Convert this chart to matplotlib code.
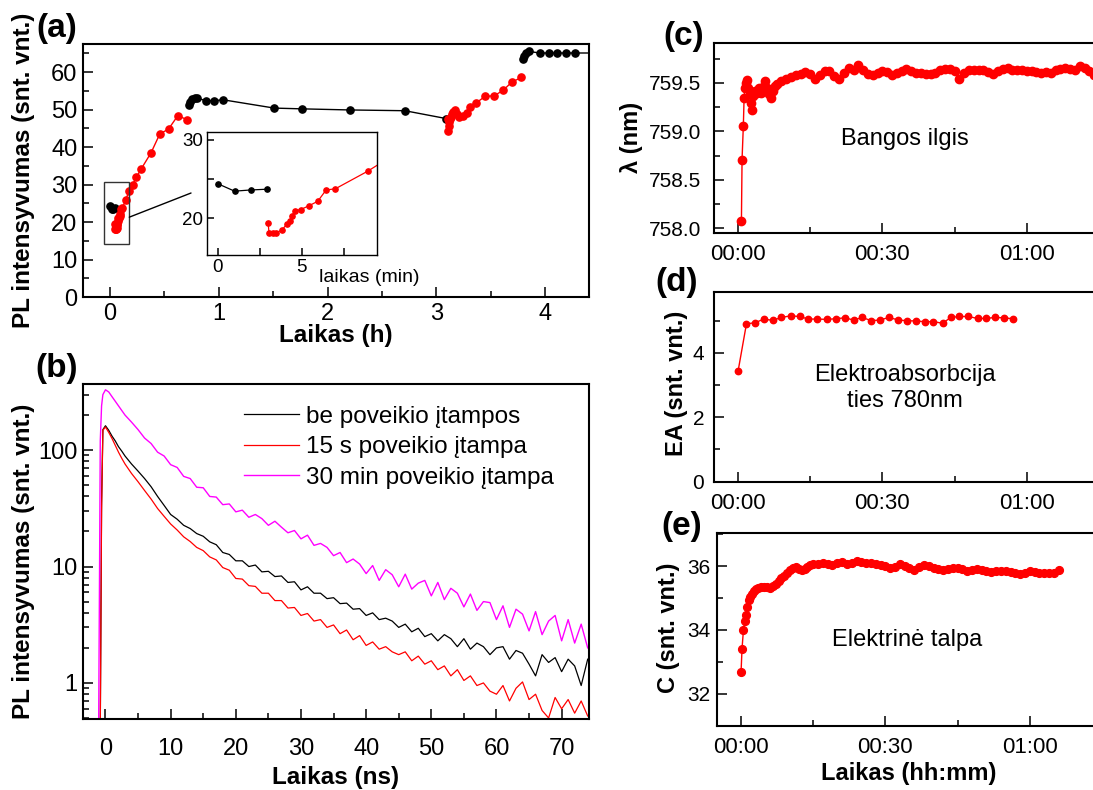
import matplotlib
matplotlib.use('Agg')
import matplotlib.pyplot as plt
from matplotlib.ticker import MultipleLocator, FixedLocator, FixedFormatter, LogLocator, NullFormatter, FuncFormatter
from matplotlib.patches import Rectangle, ConnectionPatch

plt.rcParams['font.family'] = ['Liberation Sans', 'DejaVu Sans']

# ---------------- data ----------------
# (a) PL intensity vs time
a_black1_min = [0, 1.0, 1.95, 2.95]
a_black1_val = [24.4, 23.45, 23.6, 23.7]
a_red1_min = [3.0, 3.05, 3.27, 3.47, 3.8, 4.1, 4.3, 4.44, 4.6, 4.94, 5.44, 5.95, 6.45, 7.0, 8.93]
a_red1_val = [19.4, 18.15, 18.15, 18.15, 18.45, 19.2, 19.6, 20.3, 20.95, 21.1, 21.6, 22.15, 23.6, 23.75, 26.0]
a_red1b_h = [0.176, 0.21, 0.246, 0.29, 0.38, 0.46, 0.54, 0.626, 0.71]
a_red1b_val = [28.2, 29.9, 32.0, 34.2, 38.5, 43.5, 44.8, 48.4, 47.3]
a_black2_h = [0.724, 0.738, 0.76, 0.784, 0.80, 0.88, 0.96, 1.044, 1.511, 1.761, 2.21, 2.71, 3.09]
a_black2_val = [51.2, 52.0, 52.7, 53.0, 53.1, 52.4, 52.4, 52.6, 50.4, 50.2, 49.9, 49.7, 47.6]
a_red2_h = [3.105, 3.11, 3.112, 3.115, 3.12, 3.13, 3.14, 3.155, 3.17, 3.19, 3.21, 3.24, 3.28,
            3.31, 3.36, 3.445, 3.53, 3.61, 3.69, 3.78]
a_red2_val = [47.6, 44.4, 45.5, 46.6, 47.5, 48.1, 48.7, 49.3, 50.0, 48.8, 48.0, 48.4, 49.0,
              50.6, 51.7, 53.5, 53.7, 55.1, 57.3, 58.6]
a_black3_h = [3.79, 3.80, 3.82, 3.85, 3.95, 4.03, 4.11, 4.19, 4.27, 4.45]
a_black3_val = [63.5, 64.4, 65.0, 65.5, 65.1, 65.1, 65.1, 65.1, 65.1, 65.1]

# (b) PL decay
b_time = [-1.6, -1.05, -0.8, -0.6, -0.4, 0, 0.5, 1, 1.5, 2, 2.5] + list(range(3, 75))
b_black = [0.2, 0.3, 0.4, 35, 150, 162, 148, 132, 120, 107, 98,
           89, 76, 66, 57, 48.5, 40, 33.5, 28, 25.5, 22.6, 21.2, 19.2, 18.2, 16.3, 15.4, 13.2, 12.7, 11.2,
           11.2, 10.0, 10.3, 9.0, 9.1, 8.2, 8.3, 7.3, 7.4, 6.3, 6.7, 5.9, 5.9, 5.3, 5.4, 4.8, 4.85, 4.3, 4.35, 3.8,
           4.0, 3.5, 3.6, 3.4, 3.0, 3.2, 2.75, 2.95, 2.5, 2.65, 2.3, 2.6, 2.4, 2.05, 2.4, 1.95, 2.2, 2.05, 1.75, 2.0,
           2.05, 1.6, 1.9, 1.8, 1.45, 1.15, 1.75, 1.5, 1.65, 1.25, 1.6, 1.4, 0.95, 1.6]
b_red = [0.2, 0.3, 0.4, 30, 148, 158, 142, 126, 110, 96, 85,
         76, 63, 53.5, 45, 38, 31.5, 27, 23.2, 20.6, 18.0, 16.4, 14.6, 13.7, 12.1, 11.4, 9.8, 9.3, 7.9,
         7.8, 6.85, 6.75, 5.9, 5.9, 5.1, 5.1, 4.4, 4.45, 3.8, 3.95, 3.4, 3.5, 3.0, 3.15, 2.65, 2.85, 2.35, 2.55, 2.1,
         2.25, 1.95, 2.05, 1.85, 1.75, 1.85, 1.55, 1.7, 1.45, 1.55, 1.3, 1.4, 1.15, 1.3, 1.05, 1.15, 0.95, 1.0, 0.85, 0.8,
         0.95, 0.7, 0.9, 1.02, 0.72, 0.8, 0.58, 0.5, 0.75, 0.6, 0.72, 0.55, 0.7, 0.52]
b_magenta = [0.2, 0.4, 120, 240, 300, 330, 316, 288, 263, 240, 219,
             200, 174, 150, 127, 114, 96, 89, 75, 71, 59.5, 57, 48, 47.5, 40, 39.5, 34, 34.5, 29.5,
             30.5, 26.5, 28, 25.8, 22.6, 24.5, 21.8, 19.5, 20.4, 17.3, 18.6, 15.2, 15.8, 14.6, 12.4, 13.2, 10.8, 11.6, 10.5, 8.7,
             10.2, 7.6, 9.4, 8.5, 6.7, 8.6, 6.4, 7.2, 7.6, 5.6, 7.3, 5.2, 6.5, 5.9, 4.5, 5.8, 4.2, 5.0, 4.9, 3.5,
             4.6, 3.0, 4.3, 3.9, 2.8, 4.1, 2.6, 3.4, 3.8, 2.3, 3.5, 2.2, 3.2, 2.0]
b_labels = ['be poveikio įtampos', '15 s poveikio įtampa', '30 min poveikio įtampa']

# (c) wavelength vs time (minutes)
c_time = [0.7, 0.83, 1.1, 1.25, 1.4, 1.6, 1.8, 2.1, 2.4, 2.7, 2.9, 3.2, 3.6, 4.0, 4.4, 4.8, 5.2, 5.6,
          6.0, 6.4, 6.8, 7.2, 7.6, 8.0, 9, 10, 11, 12, 13, 14, 15, 16, 17, 18, 19, 20, 21, 22, 23, 24,
          25, 26, 27, 28, 29, 30, 31, 32, 33, 34, 35, 36, 37, 38, 39, 40, 41, 42, 43, 44, 45, 46, 47,
          48, 49, 50, 51, 52, 53, 54, 55, 56, 57, 58, 59, 60, 61, 62, 63, 64, 65, 66, 67, 68, 69, 70,
          71, 72, 73, 74]
c_val = [758.08, 758.71, 759.06, 759.34, 759.45, 759.50, 759.53, 759.45, 759.38, 759.29, 759.22,
         759.36, 759.42, 759.40, 759.45, 759.40, 759.46, 759.52, 759.45, 759.38, 759.34, 759.42,
         759.47, 759.49, 759.52, 759.54, 759.56, 759.58, 759.59, 759.61, 759.59, 759.54, 759.58,
         759.62, 759.62, 759.57, 759.54, 759.60, 759.65, 759.63, 759.68, 759.63, 759.59, 759.58,
         759.60, 759.62, 759.61, 759.58, 759.60, 759.62, 759.64, 759.62, 759.60, 759.60, 759.59,
         759.59, 759.60, 759.63, 759.64, 759.64, 759.62, 759.54, 759.60, 759.63, 759.63, 759.63,
         759.63, 759.61, 759.59, 759.62, 759.64, 759.65, 759.63, 759.63, 759.63, 759.62, 759.62,
         759.61, 759.60, 759.61, 759.60, 759.63, 759.64, 759.65, 759.64, 759.63, 759.67, 759.65,
         759.62, 759.58]

# (d) electroabsorption
d_time = [0, 1.74, 3.6, 5.35, 7.2, 9.0, 10.9, 12.8, 14.6, 16.5, 18.4, 20.3, 22.2, 24.0, 25.8, 27.7,
          29.4, 31.4, 33.3, 35.1, 36.9, 38.8, 40.6, 42.5, 44.2, 46.0, 47.8, 49.8, 51.5, 53.4, 55.2, 57.1]
d_val = [3.43, 4.90, 4.94, 5.05, 5.01, 5.10, 5.15, 5.13, 5.05, 5.05, 5.04, 5.06, 5.09, 5.02, 5.10, 5.0,
         5.02, 5.10, 5.02, 5.0, 4.99, 4.97, 4.97, 4.92, 5.10, 5.13, 5.13, 5.07, 5.07, 5.10, 5.09, 5.06]

# (e) capacitance
e_time = [0, 0.2, 0.5, 0.76, 1.04, 1.3, 1.6, 1.87, 2.2, 2.6, 3.1, 3.6, 4.2, 4.8, 5.4, 6.0, 6.6, 7.2,
          7.8, 8.4, 9.0, 9.6, 10.2, 10.8, 11.4, 12.0, 12.6, 13.2, 13.8, 14.4, 15, 16, 17, 18, 19, 20,
          21, 22, 23, 24, 25, 26, 27, 28, 29, 30, 31, 32, 33, 34, 35, 36, 37, 38, 39, 40, 41, 42, 43,
          44, 45, 46, 47, 48, 49, 50, 51, 52, 53, 54, 55, 56, 57, 58, 59, 60, 61, 62, 63, 64, 65, 66]
e_val = [32.68, 33.41, 34.01, 34.28, 34.46, 34.72, 34.93, 35.04, 35.13, 35.22, 35.29, 35.33, 35.35,
         35.35, 35.34, 35.33, 35.37, 35.45, 35.53, 35.62, 35.70, 35.80, 35.88, 35.94, 35.96, 35.92,
         35.87, 35.90, 35.97, 36.03, 36.06, 36.07, 36.09, 36.06, 36.03, 36.10, 36.14, 36.08, 36.10,
         36.16, 36.13, 36.10, 36.09, 36.07, 36.04, 36.00, 35.94, 35.98, 36.07, 36.02, 35.93, 35.89,
         35.98, 36.04, 35.99, 35.93, 35.92, 35.88, 35.90, 35.93, 35.94, 35.90, 35.86, 35.88, 35.90,
         35.88, 35.85, 35.82, 35.84, 35.85, 35.84, 35.82, 35.80, 35.76, 35.80, 35.85, 35.82, 35.79,
         35.80, 35.78, 35.80, 35.87]

hm_ticks = [0, 30, 60]
hm_labels = ['00:00', '00:30', '01:00']

# ---------------- figure ----------------
W, H = 1093, 790
fig = plt.figure(figsize=(W / 100, H / 100), dpi=100)


def box(l, t, r, b):
    return [l / W, 1 - b / H, (r - l) / W, (b - t) / H]


RED = '#ff0000'
MAG = '#ff00ff'
LW_SP = 1.5


def style(ax, fs, pad_x=4, pad_y=4, sw=LW_SP):
    for s in ax.spines.values():
        s.set_linewidth(sw)
    ax.tick_params(which='both', direction='in', top=False, right=False, width=1.1, labelsize=fs)
    ax.tick_params(which='major', length=7)
    ax.tick_params(which='minor', length=4)
    ax.tick_params(axis='x', which='both', pad=pad_x)
    ax.tick_params(axis='y', which='both', pad=pad_y)


# ---- (a)
axa = fig.add_axes(box(83, 44, 589, 297))
style(axa, 17, pad_x=4, pad_y=4)
ms_a = 5.2
axa.plot([t / 60 for t in a_black1_min], a_black1_val, 'o-', color='black', ms=ms_a, lw=1, zorder=3)
axa.plot([t / 60 for t in a_red1_min] + a_red1b_h, a_red1_val + a_red1b_val, 'o-', color=RED, ms=ms_a, lw=1, zorder=3)
axa.plot(a_black2_h, a_black2_val, 'o-', color='black', ms=ms_a, lw=1, zorder=3)
axa.plot(a_red2_h, a_red2_val, 'o-', color=RED, ms=ms_a, lw=1, zorder=4)
axa.plot(a_black3_h, a_black3_val, 'o-', color='black', ms=ms_a, lw=1, zorder=3)
axa.set_xlim(-0.245, 4.4)
axa.set_ylim(0, 67.5)
axa.xaxis.set_major_locator(MultipleLocator(1))
axa.xaxis.set_minor_locator(MultipleLocator(0.5))
axa.yaxis.set_major_locator(MultipleLocator(10))
axa.yaxis.set_minor_locator(MultipleLocator(5))
axa.set_xlabel('Laikas (h)', fontsize=17.5, fontweight='bold')
axa.set_ylabel('PL intensyvumas (snt. vnt.)', fontsize=17.5, fontweight='bold')
axa.xaxis.set_label_coords(0.5, -0.105)
axa.yaxis.set_label_coords(-0.095, 0.5)

# zoom box + connector
axa.add_patch(Rectangle((-0.05, 14.1), 0.23, 16.7, fill=False, ec='#333333', lw=1, zorder=5))

# inset
axi = fig.add_axes(box(207, 132, 377, 255))
style(axi, 13.5, pad_x=3, pad_y=3, sw=1.0)
axi.tick_params(which='major', length=5)
axi.tick_params(which='minor', length=5)
axi.plot(a_black1_min, a_black1_val, 'o-', color='black', ms=3.8, lw=0.9)
axi.plot(a_red1_min + [a_red1b_h[0] * 60], a_red1_val + [a_red1b_val[0]], 'o-', color=RED, ms=3.8, lw=0.9)
axi.set_xlim(-0.64, 9.48)
axi.set_ylim(15.3, 31)
axi.xaxis.set_major_locator(MultipleLocator(5))
axi.xaxis.set_minor_locator(MultipleLocator(2.5))
axi.yaxis.set_major_locator(MultipleLocator(10))
axi.yaxis.set_minor_locator(MultipleLocator(5))
axi.text(0.66, -0.11, 'laikas (min)', transform=axi.transAxes, fontsize=14, va='top', ha='left')

con = ConnectionPatch(xyA=(0.18, 21.3), coordsA=axa.transData, xyB=(-0.094, 0.504),
                      coordsB=axi.transAxes, color='black', lw=1)
fig.add_artist(con)

# ---- (b)
axb = fig.add_axes(box(83, 384, 589, 719))
style(axb, 17, pad_x=14, pad_y=4)
axb.plot(b_time, b_black, color='black', lw=0.9, label=b_labels[0])
axb.plot(b_time, b_red, color=RED, lw=0.9, label=b_labels[1])
axb.plot(b_time, b_magenta, color=MAG, lw=1.0, label=b_labels[2])
axb.set_yscale('log')
axb.set_xlim(-3.45, 74.2)
axb.set_ylim(0.49, 370)
axb.xaxis.set_major_locator(MultipleLocator(10))
axb.xaxis.set_minor_locator(MultipleLocator(5))
axb.yaxis.set_major_locator(LogLocator(base=10, numticks=10))
axb.yaxis.set_minor_locator(LogLocator(base=10, subs=range(2, 10), numticks=20))
axb.yaxis.set_major_formatter(FuncFormatter(lambda v, p: f'{v:g}'))
axb.yaxis.set_minor_formatter(NullFormatter())
axb.set_xlabel('Laikas (ns)', fontsize=17.5, fontweight='bold')
axb.set_ylabel('PL intensyvumas (snt. vnt.)', fontsize=17.5, fontweight='bold')
axb.xaxis.set_label_coords(0.5, -0.14)
axb.yaxis.set_label_coords(-0.095, 0.47)
axb.legend(loc='upper left', bbox_to_anchor=(0.3176, 0.935), frameon=False, fontsize=17.5,
           handlelength=2.26, handletextpad=0.3, labelspacing=0.35, borderpad=0, borderaxespad=0)

# ---- right panels
def right_panel(rect, fsx=16, fsy=15):
    ax = fig.add_axes(rect)
    style(ax, fsx, pad_x=8, pad_y=5)
    ax.tick_params(axis='y', labelsize=fsy)
    ax.set_xlim(-5, 74.8)
    ax.xaxis.set_major_locator(FixedLocator(hm_ticks))
    ax.xaxis.set_major_formatter(FixedFormatter(hm_labels))
    ax.xaxis.set_minor_locator(MultipleLocator(15))
    return ax


axc = right_panel(box(714, 43, 1098, 233.3))
axc.plot(c_time, c_val, 'o-', color=RED, ms=6.0, lw=1)
axc.set_ylim(757.95, 759.91)
axc.yaxis.set_major_locator(MultipleLocator(0.5))
axc.yaxis.set_minor_locator(MultipleLocator(0.25))
axc.yaxis.set_major_formatter(FuncFormatter(lambda v, p: f'{v:.1f}'))
axc.tick_params(axis='y', pad=9)
axc.set_ylabel('λ (nm)', fontsize=17, fontweight='bold')
axc.yaxis.set_label_coords(-0.185, 0.503)

axd = right_panel(box(714, 291.7, 1098, 481.7))
axd.plot(d_time, d_val, 'o-', color=RED, ms=4.6, lw=1)
axd.set_ylim(0, 5.9)
axd.yaxis.set_major_locator(MultipleLocator(2))
axd.yaxis.set_minor_locator(MultipleLocator(1))
axd.tick_params(axis='y', pad=7)
axd.set_ylabel('EA (snt. vnt.)', fontsize=17, fontweight='bold')
axd.yaxis.set_label_coords(-0.068, 0.52)

axe = right_panel(box(717, 533.3, 1101, 725.7))
axe.plot(e_time, e_val, 'o-', color=RED, ms=5.6, lw=1)
axe.set_ylim(31, 37.03)
axe.yaxis.set_major_locator(MultipleLocator(2))
axe.yaxis.set_minor_locator(MultipleLocator(1))
axe.set_ylabel('C (snt. vnt.)', fontsize=17, fontweight='bold')
axe.yaxis.set_label_coords(-0.096, 0.508)
axe.set_xlabel('Laikas (hh:mm)', fontsize=17, fontweight='bold')
axe.xaxis.set_label_coords(0.5, -0.19)

# annotations (figure pixel positions, y from top)
for txt, x, y in [('Bangos ilgis', 905, 139), ('Elektroabsorbcija\nties 780nm', 905, 388),
                  ('Elektrinė talpa', 907, 640)]:
    fig.text(x / W, 1 - y / H, txt, fontsize=17, ha='center', va='center', linespacing=1.2)

# panel letters
for lab, x, y in [('(a)', 57, 28), ('(b)', 57, 368), ('(c)', 684, 36), ('(d)', 677, 283), ('(e)', 682, 526)]:
    fig.text(x / W, 1 - y / H, lab, fontsize=24, fontweight='bold', ha='center', va='center')

fig.savefig('out.png', dpi=100)
